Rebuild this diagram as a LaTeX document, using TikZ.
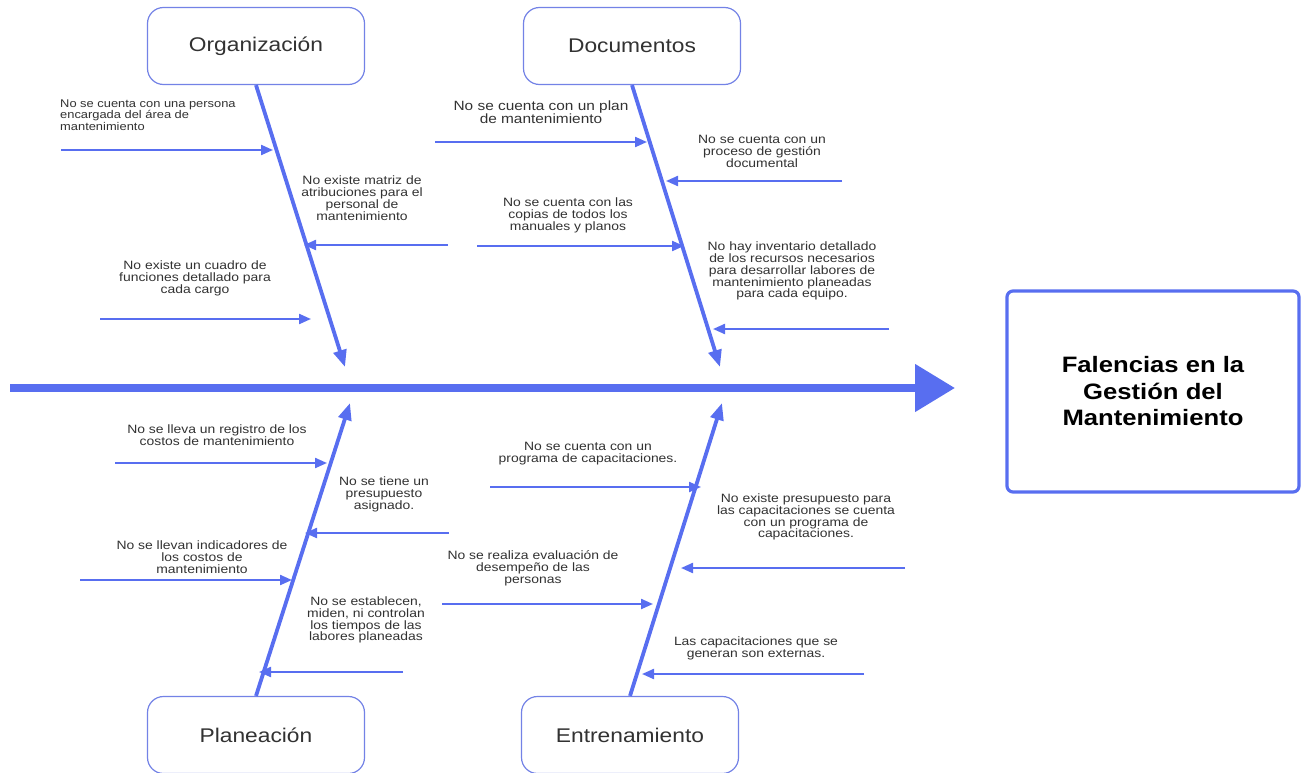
\documentclass[tikz,border=0pt]{standalone}
\usepackage{fontspec}
\setmainfont[FakeStretch=1.15]{Liberation Sans}
\usetikzlibrary{arrows.meta}

\definecolor{fishblue}{RGB}{88,110,240}
\definecolor{boxblue}{RGB}{115,130,230}
\definecolor{txtgray}{RGB}{50,50,50}

\tikzset{
  category/.style={draw=boxblue,line width=1.2pt,rounded corners=16pt,fill=white,
    minimum width=217pt,minimum height=77pt,inner sep=0pt,text=txtgray,
    font=\fontsize{19.8}{22}\selectfont},
  effect/.style={draw=fishblue,line width=3.2pt,rounded corners=6pt,
    minimum width=292pt,minimum height=201pt,align=center,text=black,
    font=\fontsize{22.3}{26.5}\selectfont\bfseries},
  cause/.style={align=center,text=txtgray,inner sep=0pt,
    font=\fontsize{12.1}{11.9}\selectfont},
  spine/.style={fishblue,line width=8pt,-{Triangle[length=40pt,width=46pt]}},
  bone/.style={fishblue,line width=3.8pt,-{Triangle[length=17pt,width=13pt]}},
  rib/.style={fishblue,line width=2.2pt,-{Triangle[length=12pt,width=10pt]}}
}

\begin{document}
\begin{tikzpicture}[x=1pt,y=-1pt]
    \useasboundingbox (0,0) rectangle (1306,773);

    \node[category] (org) at (256,46) {Organización};
    \node[category] (doc) at (632,46) {Documentos};
    \node[category] (plan) at (256,735) {Planeación};
    \node[category] (entr) at (630,735) {Entrenamiento};
    \node[effect] (efecto) at (1153,391.5) {Falencias en la\\Gestión del\\Mantenimiento};

    \coordinate (spineA) at (10,388);
    \coordinate (spineB) at (955,388);
    \draw[spine] (spineA) -- (spineB);

    \coordinate (orgtip) at (345,367);
    \coordinate (doctip) at (720,367);
    \coordinate (plantip) at (350,403);
    \coordinate (entrtip) at (722,403);
    \draw[bone] (org.south) -- (orgtip);
    \draw[bone] (doc.south) -- (doctip);
    \draw[bone] (plan.north) -- (plantip);
    \draw[bone] (entr.north) -- (entrtip);

    % Organizacion
    \node[cause,align=left,anchor=west,font=\fontsize{11.2}{11.6}\selectfont] (o1) at (60,115)
      {No se cuenta con una persona\\encargada del área de\\mantenimiento};
    \coordinate (o1a) at (61,150);  \coordinate (o1b) at (273,150);
    \draw[rib] (o1a) -- (o1b);
    \node[cause] (o2) at (362,198)
      {No existe matriz de\\atribuciones para el\\personal de\\mantenimiento};
    \coordinate (o2a) at (448,245); \coordinate (o2b) at (304,245);
    \draw[rib] (o2a) -- (o2b);
    \node[cause] (o3) at (195,278)
      {No existe un cuadro de\\funciones detallado para\\cada cargo};
    \coordinate (o3a) at (100,319); \coordinate (o3b) at (311,319);
    \draw[rib] (o3a) -- (o3b);

    % Documentos
    \node[cause,font=\fontsize{13.4}{12.5}\selectfont] (d1) at (541,112)
      {No se cuenta con un plan\\de mantenimiento};
    \coordinate (d1a) at (435,142); \coordinate (d1b) at (647,142);
    \draw[rib] (d1a) -- (d1b);
    \node[cause] (d2) at (762,151)
      {No se cuenta con un\\proceso de gestión\\documental};
    \coordinate (d2a) at (842,181); \coordinate (d2b) at (666,181);
    \draw[rib] (d2a) -- (d2b);
    \node[cause] (d3) at (568,215)
      {No se cuenta con las\\copias de todos los\\manuales y planos};
    \coordinate (d3a) at (477,246); \coordinate (d3b) at (684,246);
    \draw[rib] (d3a) -- (d3b);
    \node[cause] (d4) at (792,271)
      {No hay inventario detallado\\de los recursos necesarios\\para desarrollar labores de\\mantenimiento planeadas\\para cada equipo.};
    \coordinate (d4a) at (889,329); \coordinate (d4b) at (713,329);
    \draw[rib] (d4a) -- (d4b);

    % Planeacion
    \node[cause] (p1) at (217,435)
      {No se lleva un registro de los\\costos de mantenimiento};
    \coordinate (p1a) at (115,463); \coordinate (p1b) at (327,463);
    \draw[rib] (p1a) -- (p1b);
    \node[cause] (p2) at (384,494)
      {No se tiene un\\presupuesto\\asignado.};
    \coordinate (p2a) at (449,533); \coordinate (p2b) at (305,533);
    \draw[rib] (p2a) -- (p2b);
    \node[cause] (p3) at (202,557)
      {No se llevan indicadores de\\los costos de\\mantenimiento};
    \coordinate (p3a) at (80,580);  \coordinate (p3b) at (292,580);
    \draw[rib] (p3a) -- (p3b);
    \node[cause] (p4) at (366,620)
      {No se establecen,\\miden, ni controlan\\los tiempos de las\\labores planeadas};
    \coordinate (p4a) at (403,672); \coordinate (p4b) at (259,672);
    \draw[rib] (p4a) -- (p4b);

    % Entrenamiento
    \node[cause] (e1) at (588,454)
      {No se cuenta con un\\programa de capacitaciones.};
    \coordinate (e1a) at (490,487); \coordinate (e1b) at (701,487);
    \draw[rib] (e1a) -- (e1b);
    \node[cause] (e2) at (806,517)
      {No existe presupuesto para\\las capacitaciones se cuenta\\con un programa de\\capacitaciones.};
    \coordinate (e2a) at (905,568); \coordinate (e2b) at (681,568);
    \draw[rib] (e2a) -- (e2b);
    \node[cause] (e3) at (533,568)
      {No se realiza evaluación de\\desempeño de las\\personas};
    \coordinate (e3a) at (442,604); \coordinate (e3b) at (653,604);
    \draw[rib] (e3a) -- (e3b);
    \node[cause] (e4) at (756,648)
      {Las capacitaciones que se\\generan son externas.};
    \coordinate (e4a) at (864,674); \coordinate (e4b) at (642,674);
    \draw[rib] (e4a) -- (e4b);
\end{tikzpicture}
\end{document}
